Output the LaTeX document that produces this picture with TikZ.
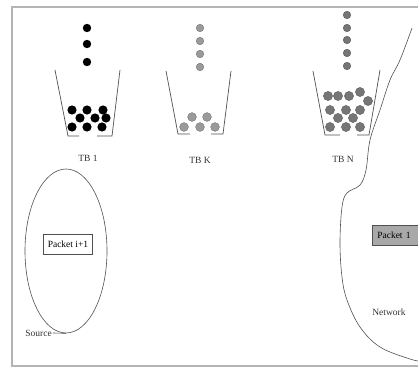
\documentclass[tikz,border=0pt]{standalone}
\usepackage{fontspec}
\setmainfont{Liberation Serif}
\usetikzlibrary{shapes.geometric}
\definecolor{framec}{HTML}{B4B4B4}
\definecolor{linec}{HTML}{505050}
\definecolor{balltwo}{HTML}{9A9A9A}
\definecolor{ballthree}{HTML}{767676}
\definecolor{pktfill}{HTML}{A8A8A8}
\begin{document}
\begin{tikzpicture}[x=1pt,y=-1pt,
  bucketline/.style={draw=linec, line width=0.7pt},
  lbl/.style={font=\fontsize{9.5}{10}\selectfont, text=black!80, inner sep=1pt},
  pktbox/.style={draw=linec, line width=0.6pt, font=\fontsize{9.5}{10}\selectfont, inner xsep=4pt, inner ysep=3pt, minimum height=20pt},
  ballone/.style={fill=black},
  balltwos/.style={fill=balltwo, draw=gray!80!black, line width=0.3pt},
  ballthrees/.style={fill=ballthree, draw=gray!60!black, line width=0.3pt}]
\useasboundingbox (0,0) rectangle (418,369);
\clip (0,0) rectangle (418,369);
% frame
\draw[framec, line width=1.6pt] (12,7) rectangle (440,366);

% bucket TB 1
\draw[bucketline] (55,70) -- (68,136) -- (79,136);
\draw[bucketline] (97,136) -- (112,136) -- (120,70);
\foreach \y in {28,44,62} \fill[ballone] (87,\y) circle[radius=4.2];
\foreach \p in {(72,110),(87,110),(103,110),(80,118),(95,118),(106,118),(72,127),(87,127),(102,127)}
  \fill[ballone] \p circle[radius=4.6];
\node[lbl] (tb1) at (88,158) {TB 1};

% bucket TB K
\draw[bucketline] (166,71) -- (178,134) -- (190,134);
\draw[bucketline] (211,134) -- (223,134) -- (231,71);
\foreach \y in {28,41,54,67} \filldraw[balltwos] (200,\y) circle[radius=3.8];
\foreach \p in {(192,117),(207,117),(184,127),(200,127),(215,127)}
  \filldraw[balltwos] \p circle[radius=4.4];
\node[lbl] (tbk) at (200,160) {TB K};

% bucket TB N
\draw[bucketline] (313,71) -- (325,135) -- (340,135);
\draw[bucketline] (357,135) -- (369,135) -- (380,70);
\foreach \y in {15,28,40,53,66} \filldraw[ballthrees] (347,\y) circle[radius=3.8];
\foreach \p in {(328,96),(338,96),(349,96),(360,92),(368,101),(330,110),(346,110),(360,110),(338,118),(353,118),(330,127),(346,127),(360,127)}
  \filldraw[ballthrees] \p circle[radius=4.6];
\node[lbl] (tbn) at (343,159) {TB N};

% source ellipse
\node[draw=linec, line width=0.6pt, ellipse, minimum width=82pt, minimum height=164pt, inner sep=0pt] (src) at (66,251) {};
\node[pktbox] (pkt2) at (68,244) {Packet i+1};
\node[lbl, anchor=east] (srclbl) at (53,333) {Source};
\draw[linec, line width=0.6pt] (srclbl.east) -- (src.south);

% network
\draw[linec, line width=0.6pt] plot[smooth, tension=0.6] coordinates {
  (412,28) (400,60) (390,80) (380,110) (370,140) (366,170) (360,185) (347,193) (342,207)
  (340,243) (342,277) (347,300) (360,327) (380,347) (410,359) (425,362)};
\node[lbl] (net) at (389,312) {Network};
\node[pktbox, fill=pktfill, anchor=west, text width=44pt, align=left, inner xsep=5pt] (pkt1) at (372,235) {Packet 1};
\end{tikzpicture}
\end{document}
